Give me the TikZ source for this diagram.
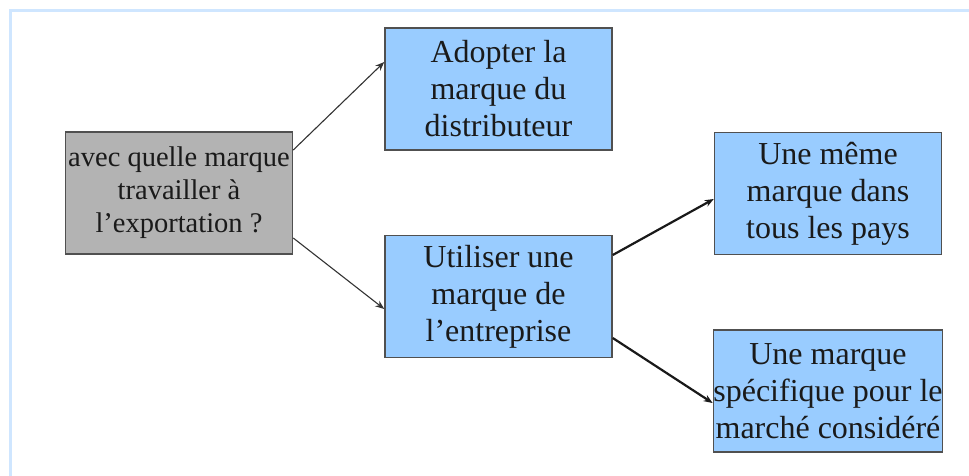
\documentclass[tikz,border=0pt]{standalone}
\usepackage{fontspec}
\setmainfont{Liberation Serif}
\usetikzlibrary{arrows.meta}
\definecolor{boxblue}{HTML}{99CCFF}
\definecolor{boxgray}{HTML}{B3B3B3}
\definecolor{edgegray}{HTML}{505050}
\definecolor{framblue}{HTML}{CFE6FF}
\definecolor{inkdark}{HTML}{1A1A1A}
\tikzset{
  choice/.style={draw=edgegray, line width=1.5pt, fill=boxblue, text=inkdark,
    minimum width=227pt, minimum height=122pt, inner sep=0pt, align=center,
    font=\fontsize{32}{37}\selectfont},
  question/.style={choice, fill=boxgray, font=\fontsize{28.5}{33}\selectfont},
  thinarrow/.style={draw=black!80, line width=1.1pt, -{Stealth[length=9pt,width=7pt]}},
  thickarrow/.style={draw=black!90, line width=2.2pt, -{Stealth[length=9pt,width=7pt]}}
}
\begin{document}
\begin{tikzpicture}[x=1pt,y=-1pt]
  \useasboundingbox (0,0) rectangle (969,475);
  % outer frame
  \draw[framblue, line width=3pt] (10,476) -- (10,10) -- (970,10);

  \node[question] (q) at (179,193) {avec quelle marque\\travailler à\\l’exportation ?};
  \node[choice] (a) at (498.5,89) {Adopter la\\marque du\\distributeur};
  \node[choice] (u) at (498.5,296.5) {Utiliser une\\marque de\\l’entreprise};
  \node[choice] (m) at (828,193.5) {Une même\\marque dans\\tous les pays};
  \node[choice] (s) at (828,391) {Une marque\\spécifique pour le\\marché considéré};

  \draw[thinarrow] ([yshift=43pt]q.east) -- ([yshift=27pt]a.west);
  \draw[thinarrow] ([yshift=-45pt]q.east) -- ([yshift=-12.5pt]u.west);
  \draw[thickarrow] ([yshift=41.5pt]u.east) -- ([yshift=-5.5pt]m.west);
  \draw[thickarrow] ([yshift=-41.5pt]u.east) -- ([yshift=-12pt]s.west);
\end{tikzpicture}
\end{document}
